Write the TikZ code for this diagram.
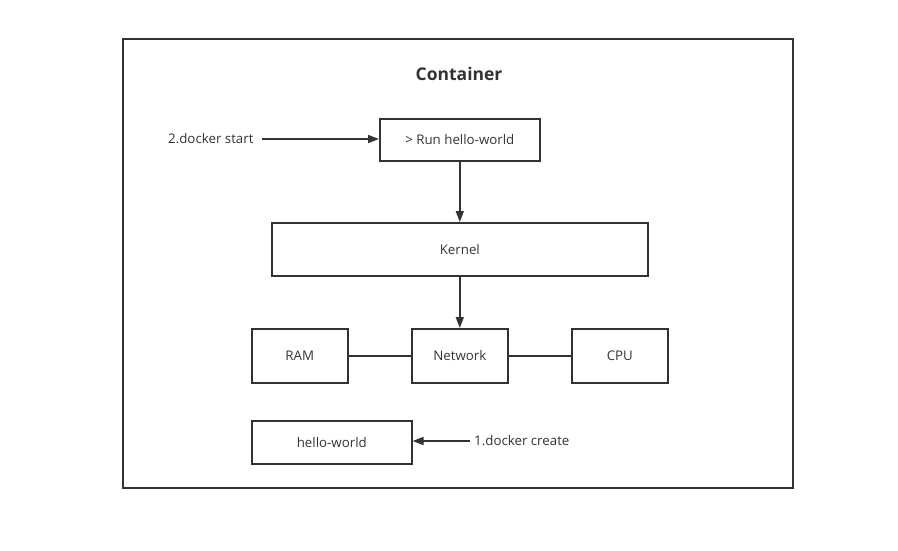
\documentclass[tikz,border=0pt]{standalone}
\usepackage{fontspec}
\setmainfont{Open Sans}
\usetikzlibrary{arrows.meta}
\definecolor{ink}{HTML}{333333}
\begin{document}
\begin{tikzpicture}[x=1pt,y=-1pt,
  box/.style={draw=ink,line width=1.6pt,inner sep=0pt,anchor=north west,text=ink,font=\fontsize{13.3}{16}\selectfont},
  lbl/.style={text=ink,inner sep=0pt,font=\fontsize{13.3}{16}\selectfont},
  conn/.style={draw=ink,line width=1.6pt},
  arr/.style={conn,-{Triangle[length=11pt,width=8pt]}}]
\useasboundingbox (0,0) rectangle (898,551);
\node[box,minimum width=670pt,minimum height=449pt] (cont) at (122,38) {};
\node[text=ink,font=\fontsize{17.5}{21}\selectfont\bfseries] (title) at (459,74) {Container};
\node[box,minimum width=160pt,minimum height=42pt] (run) at (379,118) {> Run hello-world};
\node[lbl,anchor=west] (start) at (168,139) {2.docker start};
\coordinate (startend) at (262,139);
\node[box,minimum width=376pt,minimum height=53pt] (kernel) at (271,222) {Kernel};
\node[box,minimum width=96pt,minimum height=54pt] (ram) at (251,328) {RAM};
\node[box,minimum width=96pt,minimum height=54pt] (net) at (411,328) {Network};
\node[box,minimum width=96pt,minimum height=54pt] (cpu) at (571,328) {CPU};
\node[box,minimum width=160pt,minimum height=43pt] (hw) at (251,420) {hello-world};
\node[lbl,anchor=west] (create) at (474,441) {1.docker create};
\coordinate (createend) at (470,441);
\draw[arr] (startend) -- (startend -| run.west);
\draw[arr] (run.south) -- (kernel.north);
\draw[arr] (kernel.south) -- (net.north);
\draw[conn] (ram.east) -- (net.west);
\draw[conn] (net.east) -- (cpu.west);
\draw[arr] (createend) -- (createend -| hw.east);
\end{tikzpicture}
\end{document}
